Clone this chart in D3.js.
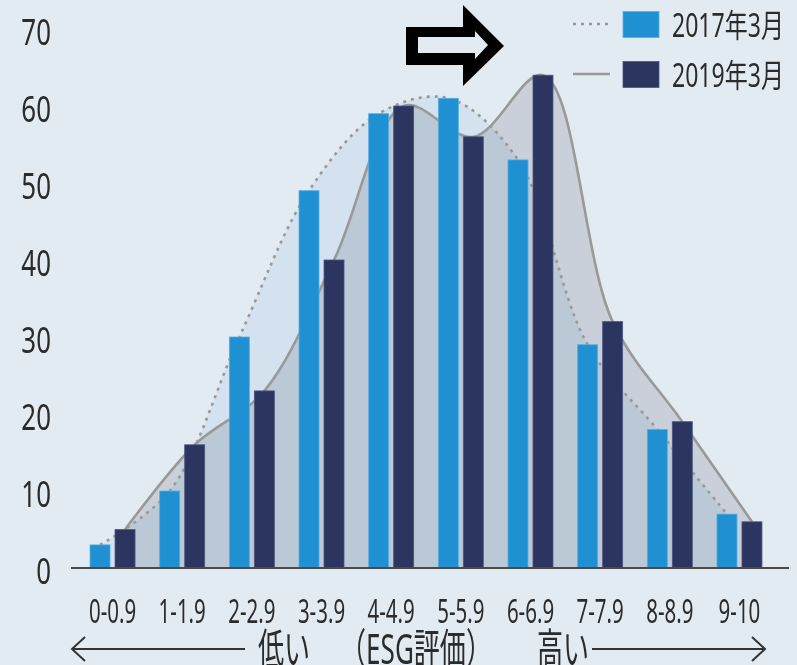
<!DOCTYPE html>
<html>
<head>
<meta charset="utf-8">
<script src="https://cdn.jsdelivr.net/npm/d3@7"></script>
<style>
	body { margin: 0; background: #e3ebf2; }
	svg { display: block; }
</style>
</head>
<body>
<svg id="chart" width="797" height="665"></svg>
<script>
const categories = ["0-0.9", "1-1.9", "2-2.9", "3-3.9", "4-4.9", "5-5.9", "6-6.9", "7-7.9", "8-8.9", "9-10"];
const values_2017 = [3, 10, 30, 49, 59, 61, 53, 29, 18, 7];
const values_2019 = [5, 16, 23, 40, 60, 56, 64, 32, 19, 6];
const series_names = ["2017年3月", "2019年3月"];
const y_ticks = [0, 10, 20, 30, 40, 50, 60, 70];
const scale_labels = ["低い", "（ESG評価）", "高い"];

const color_dict = {
	bg: "#e3ebf2",
	bar_2017: "#1f91d2",
	bar_2017_edge: "#5aaee0",
	bar_2019: "#2b3560",
	bar_2019_edge: "#4d5780",
	area_2017: "#eef5fb", // multiply
	area_2019: "#e2e2e6", // multiply
	line: "#999",
	text: "#2b2b2b",
};
const font = "'Noto Sans', 'Noto Sans CJK JP', sans-serif";

const svg = d3.select("#chart");
const width = +svg.attr("width");
const height = +svg.attr("height");

svg.append("rect").attr("width", width).attr("height", height).attr("fill", color_dict.bg);

const x = d3.scaleBand().domain(categories).range([77.7, 774.3]);
const x1 = d3.scaleBand().domain(series_names).range([-22.5, 22.5]).paddingInner(0.2);
const y = d3.scaleLinear().domain([0, 70]).range([568, 29]);

const series = [
	{ name: series_names[0], values: values_2017, bar: color_dict.bar_2017, edge: color_dict.bar_2017_edge, area: color_dict.area_2017, dash: "3,5" },
	{ name: series_names[1], values: values_2019, bar: color_dict.bar_2019, edge: color_dict.bar_2019_edge, area: color_dict.area_2019, dash: null },
];

// bar left edge
const bx = (cat, name) => x(cat) + x.bandwidth() / 2 + x1(name);
const points = (s) => categories.map((c, i) => ({ x: bx(c, s.name) + x1.bandwidth() / 2, v: s.values[i] }));

const curve = d3.curveCatmullRom.alpha(0.5);
const area = d3.area().x((d) => d.x).y0(y(0)).y1((d) => y(d.v)).curve(curve);
const line = d3.line().x((d) => d.x).y((d) => y(d.v)).curve(curve);

// areas, 2019 first
const area_g = svg.append("g");
[series[1], series[0]].forEach((s) => {
	area_g.append("path")
		.attr("d", area(points(s)))
		.attr("fill", s.area)
		.style("mix-blend-mode", "multiply");
});

[series[1], series[0]].forEach((s) => {
	svg.append("path")
		.attr("d", line(points(s)))
		.attr("fill", "none")
		.attr("stroke", color_dict.line)
		.attr("stroke-width", 2.6)
		.attr("stroke-dasharray", s.dash);
});

// bars
series.forEach((s) => {
	svg.append("g")
		.selectAll("rect")
		.data(categories.map((c, i) => ({ cat: c, v: s.values[i] })))
		.join("rect")
		.attr("x", (d) => bx(d.cat, s.name))
		.attr("y", (d) => y(d.v))
		.attr("width", x1.bandwidth())
		.attr("height", (d) => y(0) - y(d.v))
		.attr("fill", s.bar)
		.attr("stroke", s.edge)
		.attr("stroke-width", 0.8);
});

// baseline
svg.append("line")
	.attr("x1", 71).attr("x2", 789)
	.attr("y1", y(0)).attr("y2", y(0))
	.attr("stroke", "#4a4a4a")
	.attr("stroke-width", 2);

// y axis
const y_axis = svg.append("g")
	.attr("transform", "translate(51,0)")
	.call(d3.axisLeft(y).tickValues(y_ticks).tickSize(0).tickPadding(0));
y_axis.select(".domain").remove();
y_axis.attr("font-family", font).attr("font-size", 36);
y_axis.selectAll("text")
	.attr("x", 0)
	.attr("dy", "0.44em")
	.attr("transform", "scale(0.72,1)")
	.attr("fill", color_dict.text);

// x axis
const x_axis = svg.append("g")
	.attr("transform", `translate(0,${y(0)})`)
	.call(d3.axisBottom(x).tickSize(0).tickPadding(0));
x_axis.select(".domain").remove();
x_axis.attr("font-family", font).attr("font-size", 32);
x_axis.selectAll("text")
	.attr("y", 55)
	.attr("dy", 0)
	.attr("transform", "scale(0.64,1)")
	.attr("fill", color_dict.text);

// legend
const legend = svg.append("g").attr("transform", "translate(573,24)");
series.forEach((s, i) => {
	const row = legend.append("g").attr("transform", `translate(0,${i * 50})`);
	row.append("line")
		.attr("x1", 0).attr("x2", 37)
		.attr("stroke", color_dict.line)
		.attr("stroke-width", 2.6)
		.attr("stroke-dasharray", s.dash);
	row.append("rect")
		.attr("x", 50).attr("y", -12.5)
		.attr("width", 36).attr("height", 26)
		.attr("fill", s.bar)
		.attr("stroke", s.edge)
		.attr("stroke-width", 0.8);
	row.append("text")
		.attr("transform", "translate(99,13) scale(0.72,1)")
		.attr("font-family", font)
		.attr("font-size", 32)
		.attr("fill", color_dict.text)
		.text(s.name);
});

// low / high scale below the axis
const scale_g = svg.append("g")
	.attr("font-family", font)
	.attr("font-size", 42)
	.attr("fill", color_dict.text)
	.attr("text-anchor", "middle");
[284, 416, 563].forEach((cx, i) => {
	scale_g.append("text")
		.attr("transform", `translate(${cx},664) scale(0.62,1)`)
		.text(scale_labels[i]);
});
const arr = svg.append("g")
	.attr("fill", "none")
	.attr("stroke", "#333")
	.attr("stroke-width", 2);
arr.append("path").attr("d", "M245,649 H72 M85,637 L72,649 L85,661");
arr.append("path").attr("d", "M592,649 H765 M752,637 L765,649 L752,661");

// big arrow
svg.append("polygon")
	.attr("points", "406,27 463,27 463,5 504,46 463,86 463,65 406,65")
	.attr("fill", "#000");
svg.append("polygon")
	.attr("points", "418,37 475,37 475,31 488,45 475,59 475,53 418,53")
	.attr("fill", color_dict.bg);
</script>
</body>
</html>
